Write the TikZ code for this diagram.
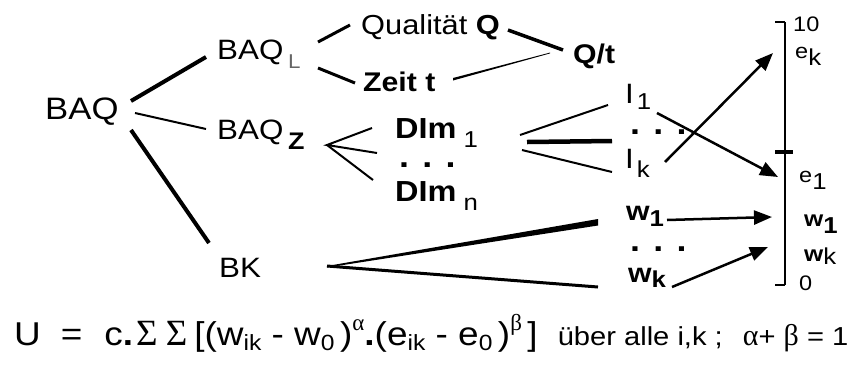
\documentclass[tikz,border=0pt]{standalone}
\usepackage{fontspec}
\setmainfont{Liberation Sans}[FakeStretch=1.12]
\newfontfamily\grk{Liberation Serif}
\usetikzlibrary{arrows.meta}
\newcommand\lowtxt[3]{\raisebox{#1}{\fontsize{#2}{#2}\selectfont #3}}
\begin{document}
\begin{tikzpicture}[x=1pt,y=-1pt,
  lbl/.style={inner sep=0pt,anchor=base west,font=\fontsize{28}{30}\selectfont},
  blbl/.style={lbl,font=\fontsize{27}{30}\selectfont\bfseries},
  sml/.style={inner sep=0pt,anchor=base west,font=\fontsize{21}{22}\selectfont},
  dotrow/.style={inner sep=0pt,anchor=base west,font=\fontsize{32}{32}\selectfont\bfseries},
  frm/.style={inner sep=0pt,anchor=base west,font=\fontsize{33}{34}\selectfont},
  con/.style={line width=#1,line cap=butt},
  arr/.style={line width=2.5pt,-{Triangle[length=18pt,width=14pt]}}]
\useasboundingbox (0,0) rectangle (856,365);
% nodes
\node[lbl,font=\fontsize{31}{32}\selectfont] (baq) at (45,119) {BAQ};
\node[lbl] (baql) at (217,59) {BAQ\,\lowtxt{-9pt}{20}{\color{black!60}L}};
\node[lbl] (baqz) at (217,139) {BAQ\,\lowtxt{-10pt}{24}{\bfseries Z}};
\node[lbl] (bk) at (219,277) {BK};
\node[lbl,font=\fontsize{27.5}{30}\selectfont] (qual) at (361,34) {Qualität \textbf{Q}};
\node[blbl] (zeit) at (363,91) {Zeit t};
\node[blbl] (qt) at (573,63) {Q/t};
\node[blbl,font=\fontsize{29}{30}\selectfont\bfseries] (dim1) at (395,138) {DIm\hspace{7pt}\lowtxt{-9pt}{23}{\mdseries 1}};
\node[dotrow] (dimd) at (399,167) {. . .};
\node[blbl,font=\fontsize{29}{30}\selectfont\bfseries] (dimn) at (395,201) {DIm\hspace{7pt}\lowtxt{-9pt}{23}{\mdseries n}};
\node[lbl] (i1) at (625,103) {I\hspace{3pt}\lowtxt{-6pt}{23}{1}};
\node[dotrow] (id) at (630,134) {. . .};
\node[lbl] (ik) at (625,168) {I\hspace{3pt}\lowtxt{-9pt}{23}{k}};
\node[blbl] (w1) at (626,220) {w\lowtxt{-6pt}{23}{1}};
\node[dotrow] (wd) at (630,251) {. . .};
\node[blbl] (wk) at (628,282) {w\lowtxt{-5pt}{23}{k}};
% scale
\coordinate (stop) at (785,22);
\coordinate (sbot) at (785,285);
\coordinate (smid) at (785,152);
\draw[line width=2.5pt] (stop) -- (sbot);
\draw[line width=2.5pt] ([xshift=-10pt]stop) -- (stop);
\draw[line width=2.5pt] ([xshift=-10pt]sbot) -- (sbot);
\draw[line width=3.5pt] ([xshift=-10pt]smid) -- ([xshift=8pt]smid);
\node[sml] (s10) at (793,31) {10};
\node[sml] (sek) at (795,58) {e\lowtxt{-7pt}{23}{k}};
\node[sml] (se1) at (799,182) {e\lowtxt{-7pt}{23}{1}};
\node[sml,font=\fontsize{22}{22}\selectfont\bfseries] (sw1) at (804,226) {w\lowtxt{-7pt}{23}{1}};
\node[sml,font=\fontsize{22}{22}\selectfont\bfseries] (swk) at (804,261) {w\lowtxt{-3pt}{23}{\mdseries k}};
\node[sml] (s0) at (799,290) {0};
% connectors BAQ
\coordinate (a1) at (131,101); \coordinate (a2) at (206,57);
\coordinate (b1) at (135,113); \coordinate (b2) at (206,129);
\coordinate (c1) at (131,130); \coordinate (c2) at (209,243);
\draw[con=4pt] (a1) -- (a2);
\draw[con=2pt] (b1) -- (b2);
\draw[con=4pt] (c1) -- (c2);
% BAQ_L
\coordinate (d1) at (318,42); \coordinate (d2) at (350,25);
\coordinate (e1) at (318,68); \coordinate (e2) at (355,83);
\coordinate (f1) at (508,30); \coordinate (f2) at (563,50);
\draw[con=3pt] (d1) -- (d2);
\draw[con=3pt] (e1) -- (e2);
\draw[con=3.5pt] (f1) -- (f2);
\coordinate (g1) at (453,79); \coordinate (g2) at (550,53);
\fill (453,78) -- (550,52.6) -- (550,53.4) -- (453,80.5) -- cycle;
% BAQ_Z fan
\coordinate (zap) at (327,145);
\coordinate (z1) at (372,128); \coordinate (z2) at (377,153); \coordinate (z3) at (373,180);
\draw[con=2pt,line join=miter] (z1) -- (zap) -- (z2);
\draw[con=2pt] (zap) -- (z3);
% Dim to I
\coordinate (h1) at (520,135); \coordinate (h2) at (608,105);
\coordinate (j1) at (527,142); \coordinate (j2) at (612,141);
\coordinate (k1) at (522,150); \coordinate (k2) at (612,172);
\draw[con=2pt] (h1) -- (h2);
\draw[con=4.5pt] (j1) -- (j2);
\draw[con=2pt] (k1) -- (k2);
% BK fan
\coordinate (bap) at (327,266);
\coordinate (bw1) at (598,222); \coordinate (bw2) at (598,287);
\fill (bap) -- (598,219) -- (598,225.5) -- (327,267.5) -- cycle;
\draw[con=3pt] (bap) -- (bw2);
% arrows
\coordinate (p1) at (657,113); \coordinate (p2) at (778,177);
\coordinate (q1) at (665,162); \coordinate (q2) at (773,53);
\coordinate (r1) at (667,220); \coordinate (r2) at (772,217);
\coordinate (t1) at (672,287); \coordinate (t2) at (768,247);
\draw[arr] (p1) -- (p2);
\draw[arr] (q1) -- (q2);
\draw[arr] (r1) -- (r2);
\draw[arr] (t1) -- (t2);
% formula
\node[frm] (formula) at (14,345) {U\hspace{20pt}=\hspace{22pt}c\textbf{.}\hspace{3pt}{\grk\fontsize{37}{37}\selectfont Σ\hspace{8pt}Σ}\hspace{7pt}[(w\lowtxt{-5pt}{22}{ik} - w\lowtxt{-5pt}{22}{0}\,)\lowtxt{15pt}{23}{\grk α}\textbf{.}(e\lowtxt{-5pt}{22}{ik} - e\lowtxt{-5pt}{22}{0}\,)\lowtxt{15pt}{23}{\grk β}\,]\hspace{20pt}{\fontsize{26}{28}\selectfont über alle i,k ;\hspace{20pt}{\grk\fontsize{30}{30}\selectfont α}+ {\grk\fontsize{30}{30}\selectfont β} = 1}};
\end{tikzpicture}
\end{document}
